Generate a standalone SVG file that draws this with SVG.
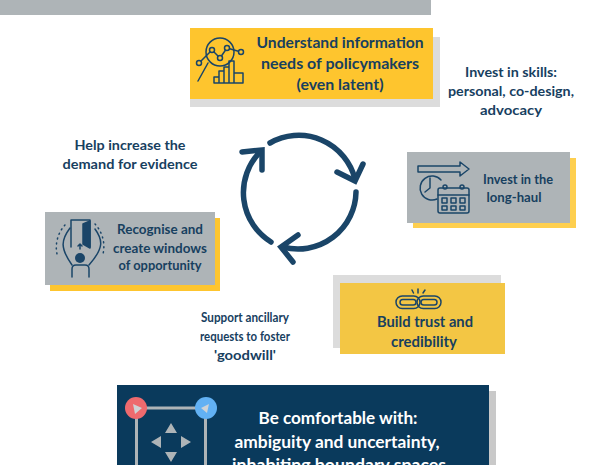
<svg xmlns="http://www.w3.org/2000/svg" width="605" height="465" viewBox="0 0 605 465">
<style>
text{font-family:"Lato","Liberation Sans",sans-serif;font-weight:700;fill:#17405f;text-anchor:middle}
.s13{font-size:15px}
.s12{font-size:13.5px}
.w{font-size:17px;fill:#fff}
.i{fill:none;stroke:#1a4568;stroke-width:1.5;stroke-linecap:round;stroke-linejoin:round}
.c{fill:none;stroke:#1a4568;stroke-width:5.5;stroke-linecap:round;stroke-linejoin:miter}
.g{fill:#aeb4b7}
</style>
<rect id="top-bar" x="0" y="0" width="431" height="15" fill="#aeb4b7"/>
<g id="node-understand">
<rect x="190" y="37" width="250" height="70" fill="#dcdcdc"/>
<rect x="190" y="28" width="243" height="71" fill="#fec52e"/>
<g class="i"><circle cx="220" cy="52" r="14"/><path d="M208 63L198 81"/><path d="M199 63L212 50L220 58L227 48L241 52"/><g fill="#fec52e"><circle cx="199" cy="63" r="2.500"/><circle cx="212" cy="50" r="2.500"/><circle cx="220" cy="58" r="2.500"/><circle cx="227" cy="48" r="2.500"/><circle cx="241" cy="52" r="2.500"/></g><path d="M214 83v-6h5v6M219 83v-12h5v12M224 83v-16h5v16M229 83v-22h5v22M234 83v-10h9v10M214 83h29"/></g>
<text class="s13" x="340" y="48" textLength="167" lengthAdjust="spacingAndGlyphs">Understand information</text>
<text class="s13" x="340" y="69" textLength="158" lengthAdjust="spacingAndGlyphs">needs of policymakers</text>
<text class="s13" x="340" y="90" textLength="87" lengthAdjust="spacingAndGlyphs">(even latent)</text>
</g>
<g id="label-skills">
<text class="s12" x="511" y="77" textLength="92" lengthAdjust="spacingAndGlyphs">Invest in skills:</text>
<text class="s12" x="511" y="96" textLength="126" lengthAdjust="spacingAndGlyphs">personal, co-design,</text>
<text class="s12" x="511" y="115" textLength="62" lengthAdjust="spacingAndGlyphs">advocacy</text>
</g>
<g id="label-demand">
<text class="s12" x="130" y="150" textLength="111" lengthAdjust="spacingAndGlyphs">Help increase the</text>
<text class="s12" x="130" y="169" textLength="135" lengthAdjust="spacingAndGlyphs">demand for evidence</text>
</g>
<g id="node-longhaul">
<rect x="413" y="158" width="163" height="70" fill="#fecf4f"/>
<rect x="407" y="152" width="163" height="71" class="g"/>
<g class="i"><path d="M418 166h42v-4l9 7l-9 7v-4h-42z"/><path d="M441 180a12 12 0 1 0-4 19"/><path d="M430 178v10l-5 4"/><rect x="438" y="188" width="31" height="25" rx="2"/><path d="M438 195h31"/><circle cx="445" cy="187" r="2"/><circle cx="462" cy="187" r="2"/><rect x="442" y="198" width="5" height="5"/><rect x="451" y="198" width="5" height="5"/><rect x="460" y="198" width="5" height="5"/><rect x="442" y="206" width="5" height="4"/><rect x="451" y="206" width="5" height="4"/><rect x="460" y="206" width="5" height="4"/></g>
<text class="s12" x="518" y="184" textLength="70" lengthAdjust="spacingAndGlyphs">Invest in the</text>
<text class="s12" x="514" y="202" textLength="55" lengthAdjust="spacingAndGlyphs">long-haul</text>
</g>
<g id="node-windows">
<rect x="50" y="218" width="170" height="73" fill="#fec52e"/>
<rect x="45" y="212" width="170" height="73" class="g"/>
<g class="i"><path d="M71 247V220h19v27"/><path d="M83 224l7-3v27l-7-4z" fill="#1a4568"/><path d="M80 249v-5M78 246l2-2l2 2"/><circle cx="80" cy="258" r="5" fill="#1a4568" stroke="none"/><path d="M70 228C61 240 60 248 72 265M95 229C103 240 104 248 89 265"/><path d="M72 277v-8q0-4 4-4h9q4 0 4 4v8"/><path d="M65 225a33 33 0 0 0-8 29" stroke-dasharray="1 4"/><path d="M95 224a33 33 0 0 1 8 30" stroke-dasharray="1 4"/></g>
<text class="s12" x="160" y="234" textLength="86" lengthAdjust="spacingAndGlyphs">Recognise and</text>
<text class="s12" x="160" y="253" textLength="94" lengthAdjust="spacingAndGlyphs">create windows</text>
<text class="s12" x="160" y="270" textLength="83" lengthAdjust="spacingAndGlyphs">of opportunity</text>
</g>
<g id="node-trust">
<rect x="333" y="275" width="168" height="73" fill="#dcdcdc"/>
<rect x="340" y="283" width="165" height="71" fill="#f3c644"/>
<g class="i"><rect x="396" y="296" width="24" height="12.500" rx="6.250"/><rect x="400" y="299.500" width="16" height="5.500" rx="2.750"/><rect x="417" y="296" width="24" height="12.500" rx="6.250"/><rect x="421" y="299.500" width="16" height="5.500" rx="2.750"/><path d="M418 289v4M412 290l1.500 3M425 290l-2 3"/></g>
<text class="s13" x="425" y="327" textLength="96" lengthAdjust="spacingAndGlyphs">Build trust and</text>
<text class="s13" x="424" y="347" textLength="66" lengthAdjust="spacingAndGlyphs">credibility</text>
</g>
<g id="label-ancillary">
<text class="s12" x="245" y="322" textLength="88" lengthAdjust="spacingAndGlyphs">Support ancillary</text>
<text class="s12" x="245" y="341" textLength="90" lengthAdjust="spacingAndGlyphs">requests to foster</text>
<text class="s12" x="245" y="360" textLength="62" lengthAdjust="spacingAndGlyphs">'goodwill'</text>
</g>
<g id="node-comfortable">
<rect x="123" y="391" width="373" height="74" fill="#c9c9c9"/>
<rect x="117" y="385" width="372" height="80" fill="#0a3a5c"/>
<path d="M136.500 408H205.500M136.500 408V465M205.500 408V465" fill="none" stroke="#aeb4b7" stroke-width="3"/>
<circle cx="136" cy="408" r="11" fill="#ee6a6e"/><circle cx="206" cy="408" r="11" fill="#62b1f4"/>
<path d="M133 404l9 4l-7 6zM209 404l-8 4l6 5z" fill="#cfd3d6"/>
<path d="M171 423l6 10h-12zM171 462l-6-10h12zM151 442l10-6v12zM191 442l-10-6v12z" fill="#aeb4b7"/>
<text class="w" x="338" y="424" style="fill:#fff" textLength="159" lengthAdjust="spacingAndGlyphs">Be comfortable with:</text>
<text class="w" x="337" y="448" style="fill:#fff" textLength="205" lengthAdjust="spacingAndGlyphs">ambiguity and uncertainty,</text>
<text class="w" x="339" y="471" style="fill:#fff" textLength="214" lengthAdjust="spacingAndGlyphs">inhabiting boundary spaces</text>
</g>
<g id="connectors">
<path class="c" d="M270 143A58 58 0 0 1 355 179"/><path class="c" d="M337 172L355 181L363 164"/>
<path class="c" d="M356 192A58 58 0 0 1 283 247"/><path class="c" d="M298 235L281 247L293 262"/>
<path class="c" d="M271 242A58 58 0 0 1 260 152"/><path class="c" d="M242 152L262 150L262 170"/>
</g>
</svg>
